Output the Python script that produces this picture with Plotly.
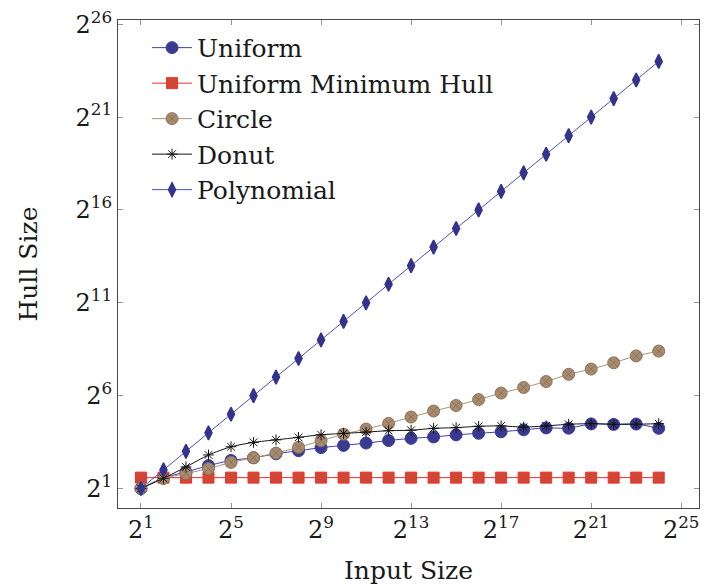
import plotly.graph_objects as go

# Input sizes (number of points), powers of two from 2^1 to 2^24
input_size = [2, 4, 8, 16, 32, 64, 128, 256, 512, 1024, 2048, 4096, 8192,
              16384, 32768, 65536, 131072, 262144, 524288, 1048576,
              2097152, 4194304, 8388608, 16777216]

# Average convex hull sizes per distribution
uniform = [2, 3.0, 3.7, 4.7, 5.7, 6.3, 7.3, 8.2, 9.2, 10.0, 10.9, 12.0, 13.0,
           13.7, 14.8, 15.7, 16.6, 17.9, 19.2, 19.0, 22.3, 21.9, 22.2, 18.9]
uniform_min_hull = [3] * 24
circle = [2, 2.9, 3.5, 4.2, 5.3, 6.3, 7.5, 9.3, 11.9, 15.2, 18.4, 22.7, 28.8,
          36.0, 44.3, 55.3, 70.5, 86.8, 108.4, 142.0, 172.4, 218.3, 282.1, 337.8]
donut = [2, 2.93, 4.47, 7.0, 9.5, 11.2, 12.3, 13.5, 14.9, 15.6, 16.4, 17.3,
         17.6, 18.9, 19.4, 20.4, 20.7, 19.8, 20.7, 22.0, 22.5, 22.0, 22.0, 22.5]
polynomial = [2, 4, 8, 16, 32, 64, 128, 256, 512, 1024, 2048, 4096, 8192,
              16384, 32768, 65536, 131072, 262144, 524288, 1048576,
              2097152, 4194304, 8388608, 16777216]

# Axis ticks
x_tick_exp = [1, 5, 9, 13, 17, 21, 25]
y_tick_exp = [1, 6, 11, 16, 21, 26]

FONT = "DejaVu Serif"
INK = "rgb(25,25,25)"

fig = go.Figure()

fig.add_trace(go.Scatter(
    x=input_size, y=uniform, name="Uniform", mode="lines+markers",
    line=dict(color="rgb(60,60,165)", width=1, shape="spline", smoothing=0.6),
    marker=dict(symbol="circle", size=12, color="rgb(58,58,142)",
                line=dict(color="rgb(60,60,165)", width=1)),
))
fig.add_trace(go.Scatter(
    x=input_size, y=uniform_min_hull, name="Uniform Minimum Hull",
    mode="lines+markers",
    line=dict(color="rgb(235,45,45)", width=1),
    marker=dict(symbol="square", size=11, color="rgb(208,72,52)",
                line=dict(color="rgb(240,50,50)", width=1)),
))
fig.add_trace(go.Scatter(
    x=input_size, y=circle, name="Circle", mode="lines+markers",
    line=dict(color="rgb(165,145,125)", width=1, shape="spline", smoothing=0.6),
    marker=dict(symbol="circle-x", size=12, color="rgb(168,138,108)",
                line=dict(color="rgb(140,115,90)", width=1)),
))
fig.add_trace(go.Scatter(
    x=input_size, y=donut, name="Donut", mode="lines+markers",
    line=dict(color="rgb(20,20,20)", width=1, shape="spline", smoothing=0.6),
    marker=dict(symbol="asterisk-open", size=9,
                line=dict(color="rgb(20,20,20)", width=1)),
))
fig.add_trace(go.Scatter(
    x=input_size, y=polynomial, name="Polynomial", mode="lines+markers",
    line=dict(color="rgb(80,80,185)", width=1),
    marker=dict(symbol="diamond-tall", size=10, color="rgb(52,52,140)",
                line=dict(color="rgb(52,52,140)", width=1.5)),
))

axis_common = dict(
    type="log", showgrid=False, zeroline=False,
    showline=True, linecolor="rgb(70,70,70)", linewidth=1, mirror="ticks",
    ticks="inside", ticklen=5, tickcolor="rgb(150,150,150)", tickwidth=1,
    tickfont=dict(family=FONT, size=24, color=INK),
)

fig.update_xaxes(
    **axis_common,
    range=[-0.02 * 0.30103, 25.79 * 0.30103],
    tickvals=[2 ** e for e in x_tick_exp],
    ticktext=[f"2<sup>{e}</sup>" for e in x_tick_exp],
    title=dict(text="Input Size", font=dict(family=FONT, size=25, color=INK),
               standoff=18),
)
fig.update_yaxes(
    **axis_common,
    range=[-0.05 * 0.30103, 26.23 * 0.30103],
    tickvals=[2 ** e for e in y_tick_exp],
    ticktext=[f"2<sup>{e}</sup>" for e in y_tick_exp],
    title=dict(text="Hull Size", font=dict(family=FONT, size=25, color=INK),
               standoff=30),
)

fig.update_layout(
    width=707, height=588,
    margin=dict(l=118, r=7, t=14, b=80),
    paper_bgcolor="white", plot_bgcolor="white",
    font=dict(family=FONT, color=INK),
    showlegend=True,
    legend=dict(
        x=0.05, y=0.99, xanchor="left", yanchor="top",
        bgcolor="rgba(255,255,255,0)", borderwidth=0,
        font=dict(family=FONT, size=25, color=INK),
        tracegroupgap=0, itemwidth=40,
    ),
)

fig.write_html("out.html")
